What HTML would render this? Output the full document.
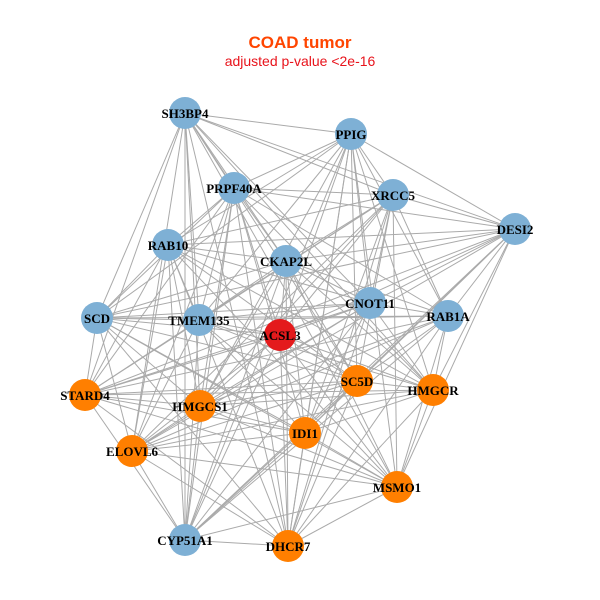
<!DOCTYPE html>
<html><head><meta charset="utf-8"><style>
html,body{margin:0;padding:0;background:#fff;}
svg{display:block;}
</style></head><body>
<svg id="s" width="600" height="600" xmlns="http://www.w3.org/2000/svg">
<rect width="600" height="600" fill="#fff"/>
<text x="300" y="48" text-anchor="middle" font-family="Liberation Sans, sans-serif" font-weight="bold" font-size="17" fill="#FF4500">COAD tumor</text>
<text x="300" y="66" text-anchor="middle" font-family="Liberation Sans, sans-serif" font-size="14" fill="#E8131B">adjusted p-value &lt;2e-16</text>
<g id="edges" stroke="#aaaaaa" stroke-width="1"></g>
<g id="nodes"></g>
</svg>
<script>
var B="#7EB0D5",O="#FF7F00",R="#E41A1C";
var n=[["SH3BP4",185,113,B],["PPIG",351,134,B],["PRPF40A",234,188,B],["XRCC5",393,195,B],["DESI2",515,229,B],["RAB10",168,245,B],["CKAP2L",286,261,B],["CNOT11",370,303,B],["SCD",97,318,B],["TMEM135",199,320,B],["RAB1A",448,316,B],["STARD4",85,395,O],["SC5D",357,381,O],["HMGCR",433,390,O],["HMGCS1",200,406,O],["IDI1",305,433,O],["ELOVL6",132,451,O],["MSMO1",397,487,O],["CYP51A1",185,540,B],["DHCR7",288,546,O],["ACSL3",280,335,R]];
var ns="http://www.w3.org/2000/svg",E=document.getElementById("edges"),N=document.getElementById("nodes");
for(var i=0;i<n.length;i++)for(var j=i+1;j<n.length;j++){
 if((i*7+j*3)%5==0)continue;
 var l=document.createElementNS(ns,"line");
 l.setAttribute("x1",n[i][1]);l.setAttribute("y1",n[i][2]);l.setAttribute("x2",n[j][1]);l.setAttribute("y2",n[j][2]);E.appendChild(l);}
n.forEach(function(d){
 var c=document.createElementNS(ns,"circle");c.setAttribute("cx",d[1]);c.setAttribute("cy",d[2]);c.setAttribute("r",16);c.setAttribute("fill",d[3]);N.appendChild(c);});
n.forEach(function(d){
 var t=document.createElementNS(ns,"text");t.setAttribute("x",d[1]);t.setAttribute("y",d[2]+5);t.setAttribute("text-anchor","middle");
 t.setAttribute("font-family","Liberation Serif, serif");t.setAttribute("font-weight","bold");t.setAttribute("font-size","13");t.textContent=d[0];N.appendChild(t);});
</script>
</body></html>
